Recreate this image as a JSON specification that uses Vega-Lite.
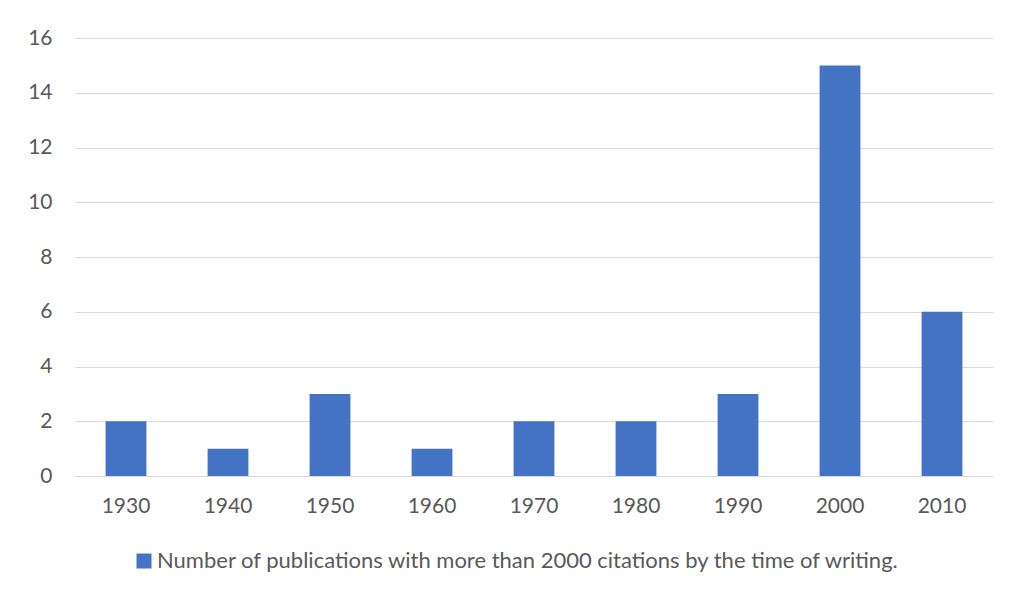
{
  "$schema": "https://vega.github.io/schema/vega-lite/v6.json",
  "autosize": "none",
  "width": 918,
  "height": 438,
  "padding": {"left": 75, "top": 38, "right": 17, "bottom": 118},
  "background": "white",
  "data": {
    "values": [
      {"decade": "1930", "count": 2, "series": "Number of publications with more than 2000 citations by the time of writing."},
      {"decade": "1940", "count": 1, "series": "Number of publications with more than 2000 citations by the time of writing."},
      {"decade": "1950", "count": 3, "series": "Number of publications with more than 2000 citations by the time of writing."},
      {"decade": "1960", "count": 1, "series": "Number of publications with more than 2000 citations by the time of writing."},
      {"decade": "1970", "count": 2, "series": "Number of publications with more than 2000 citations by the time of writing."},
      {"decade": "1980", "count": 2, "series": "Number of publications with more than 2000 citations by the time of writing."},
      {"decade": "1990", "count": 3, "series": "Number of publications with more than 2000 citations by the time of writing."},
      {"decade": "2000", "count": 15, "series": "Number of publications with more than 2000 citations by the time of writing."},
      {"decade": "2010", "count": 6, "series": "Number of publications with more than 2000 citations by the time of writing."}
    ]
  },
  "mark": {"type": "bar"},
  "encoding": {
    "x": {
      "field": "decade",
      "type": "ordinal",
      "scale": {"paddingInner": 0.6, "paddingOuter": 0.3},
      "axis": {
        "title": null,
        "labelAngle": 0,
        "ticks": false,
        "domain": true,
        "domainColor": "#d9d9d9",
        "domainWidth": 1,
        "labelPadding": 19,
        "labelFont": "Lato",
        "labelFontSize": 21,
        "labelColor": "#595959"
      }
    },
    "y": {
      "field": "count",
      "type": "quantitative",
      "scale": {"domain": [0, 16], "nice": false},
      "axis": {
        "title": null,
        "values": [0, 2, 4, 6, 8, 10, 12, 14, 16],
        "ticks": false,
        "domain": false,
        "grid": true,
        "gridColor": "#d9d9d9",
        "gridWidth": 1,
        "labelPadding": 23,
        "labelFont": "Lato",
        "labelFontSize": 21,
        "labelColor": "#595959"
      }
    },
    "color": {
      "field": "series",
      "type": "nominal",
      "scale": {"range": ["#4472c4"]},
      "legend": {
        "title": null,
        "orient": "none",
        "legendX": 58,
        "legendY": 512,
        "direction": "horizontal",
        "symbolType": "square",
        "symbolSize": 225,
        "symbolStrokeWidth": 0,
        "symbolOffset": 0,
        "labelOffset": 2,
        "labelFont": "Lato",
        "labelFontSize": 22,
        "labelColor": "#595959",
        "labelLimit": 1000
      }
    }
  },
  "config": {
    "view": {"stroke": null}
  }
}
